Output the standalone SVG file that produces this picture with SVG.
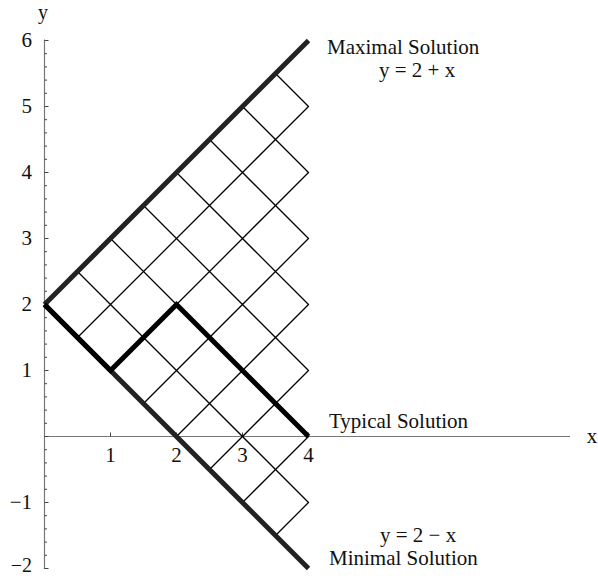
<svg xmlns="http://www.w3.org/2000/svg" width="598" height="578" viewBox="0 0 598 578">
<style>
text{font-family:"Liberation Serif","Times New Roman",serif;font-size:21px;fill:#111}
.ax{stroke:#777;stroke-width:1.2;fill:none}
.tk{stroke:#444;stroke-width:1;fill:none}
.grid{stroke:#000;stroke-width:1.3;fill:none;stroke-linecap:round}
.bound{stroke:#222;stroke-width:5;fill:none;stroke-linecap:butt}
.typ{stroke:#000;stroke-width:5;fill:none;stroke-linejoin:miter;stroke-linecap:butt}
.yl{text-anchor:end}
.xl{text-anchor:middle}
</style>
<rect width="598" height="578" fill="#fff"/>
<g id="axes">
<line class="ax" x1="44.5" y1="39.5" x2="44.5" y2="569"/>
<line class="ax" x1="44.5" y1="436.5" x2="570" y2="436.5"/>
<path class="tk" d="M44.5 568.5h4M44.5 502.5h4M44.5 436.5h4M44.5 370.5h4M44.5 304.5h4M44.5 238.5h4M44.5 172.5h4M44.5 106.5h4M44.5 40.5h4
M44.5 555.3h2.5M44.5 542.1h2.5M44.5 528.9h2.5M44.5 515.7h2.5M44.5 489.3h2.5M44.5 476.1h2.5M44.5 462.9h2.5M44.5 449.7h2.5
M44.5 423.3h2.5M44.5 410.1h2.5M44.5 396.9h2.5M44.5 383.7h2.5M44.5 357.3h2.5M44.5 344.1h2.5M44.5 330.9h2.5M44.5 317.7h2.5
M44.5 291.3h2.5M44.5 278.1h2.5M44.5 264.9h2.5M44.5 251.7h2.5M44.5 225.3h2.5M44.5 212.1h2.5M44.5 198.9h2.5M44.5 185.7h2.5
M44.5 159.3h2.5M44.5 146.1h2.5M44.5 132.9h2.5M44.5 119.7h2.5M44.5 93.3h2.5M44.5 80.1h2.5M44.5 66.9h2.5M44.5 53.7h2.5
M110.5 436.5v-4M176.5 436.5v-4M242.5 436.5v-4M308.5 436.5v-4"/>
<text x="43" y="19" class="xl" style="font-size:20px">y</text>
<text x="592" y="443" class="xl">x</text>
<text class="yl" x="32" y="47">6</text>
<text class="yl" x="32" y="113">5</text>
<text class="yl" x="32" y="179">4</text>
<text class="yl" x="32" y="245">3</text>
<text class="yl" x="32" y="311">2</text>
<text class="yl" x="32" y="377">1</text>
<text class="yl" x="32" y="509">−1</text>
<text class="yl" x="32" y="572" style="font-size:20px">−2</text>
<text class="xl" x="110.5" y="462">1</text>
<text class="xl" x="176.5" y="462">2</text>
<text class="xl" x="242.5" y="462">3</text>
<text class="xl" x="308.5" y="462">4</text>
</g>
<g id="grid">
<path class="grid" d="M77.5 271.5L308.5 502.5M110.5 238.5L308.5 436.5M143.5 205.5L308.5 370.5M176.5 172.5L308.5 304.5M209.5 139.5L308.5 238.5M242.5 106.5L308.5 172.5M275.5 73.5L308.5 106.5
M77.5 337.5L308.5 106.5M110.5 370.5L308.5 172.5M143.5 403.5L308.5 238.5M176.5 436.5L308.5 304.5M209.5 469.5L308.5 370.5M242.5 502.5L308.5 436.5M275.5 535.5L308.5 502.5"/>
</g>
<g id="maximal">
<line class="bound" x1="44.5" y1="304.5" x2="308.5" y2="40.5"/>
<text x="327" y="54">Maximal Solution</text>
<text x="379" y="77">y = 2 + x</text>
</g>
<g id="minimal">
<line class="bound" x1="44.5" y1="304.5" x2="308.5" y2="568.5"/>
<text x="380" y="542">y = 2 − x</text>
<text x="329" y="565">Minimal Solution</text>
</g>
<g id="typical">
<polyline class="typ" points="44.5,304.5 110.5,370.5 176.5,304.5 308.5,436.5"/>
<text x="329" y="428">Typical Solution</text>
</g>
</svg>
